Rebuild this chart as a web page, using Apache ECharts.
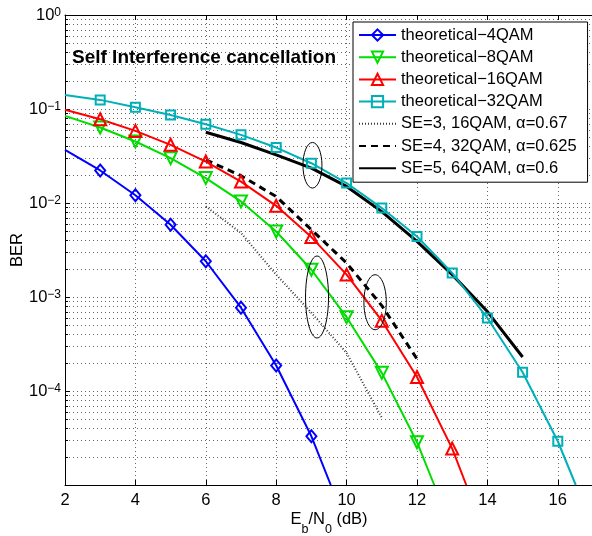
<!DOCTYPE html>
<html>
<head>
<meta charset="utf-8">
<script src="https://cdn.jsdelivr.net/npm/echarts@6/dist/echarts.min.js"></script>
<style>
  html, body { margin: 0; padding: 0; background: #fff; }
  #ber-chart { width: 592px; height: 536px; }
</style>
</head>
<body>
<div id="ber-chart"></div>
<script>
// Eb/N0 (dB) points; first / last point of each theoretical curve is where it enters / leaves the plot
const ebno4qam = [2, 3, 4, 5, 6, 7, 8, 9, 9.55];
const ber4qam = [0.0367, 0.0222, 0.0121, 0.00586, 0.0024, 7.7e-4, 1.87e-4, 3.3e-5, 1e-5];

const ebno8qam = [2, 3, 4, 5, 6, 7, 8, 9, 10, 11, 12, 12.49];
const ber8qam = [0.0845, 0.0635, 0.0451, 0.030, 0.0184, 0.0104, 0.00498, 0.00195, 6.1e-4, 1.56e-4, 2.85e-5, 1e-5];

const ebno16qam = [2, 3, 4, 5, 6, 7, 8, 9, 10, 11, 12, 13, 13.4];
const ber16qam = [0.098, 0.0779, 0.0585, 0.0416, 0.0276, 0.0169, 0.00933, 0.00434, 0.00173, 5.6e-4, 1.41e-4, 2.44e-5, 1e-5];

const ebno32qam = [2, 3, 4, 5, 6, 7, 8, 9, 10, 11, 12, 13, 14, 15, 16, 16.51];
const ber32qam = [0.141, 0.125, 0.1045, 0.0865, 0.0689, 0.0531, 0.0389, 0.0265, 0.0163, 0.00883, 0.0044, 0.0018, 5.98e-4, 1.58e-4, 2.92e-5, 1e-5];

// self interference cancellation results
const ebnoSE3 = [6, 7, 8, 9, 10, 11];
const berSE3 = [0.0092, 0.0048, 0.00173, 6.8e-4, 2.54e-4, 5.2e-5];
const ebnoSE4 = [6, 7, 8, 9, 10, 11, 12];
const berSE4 = [0.0288, 0.0195, 0.0117, 0.0052, 0.0023, 8.1e-4, 2.19e-4];
const ebnoSE5 = [6, 7, 8, 9, 10, 11, 12, 13, 14, 15];
const berSE5 = [0.0566, 0.044, 0.0325, 0.0235, 0.015, 0.0081, 0.0039, 0.00173, 7.0e-4, 2.3e-4];

// annotation ellipse centres [Eb/N0, BER]
const ellipseCenters = [[9.03, 0.0252], [9.16, 1.0e-3], [10.81, 8.8e-4]];

const FONT = 'Liberation Sans, Arial, Helvetica, sans-serif';

// minor log grid positions 2..9 x 10^k
const minorGrid = [];
for (let k = -5; k < 0; k++) {
  for (let m = 2; m <= 9; m++) minorGrid.push([2, m * Math.pow(10, k)]);
}

function supLabel(v) {
  const e = Math.round(Math.log10(v));
  return '{b|10}{s|' + (e < 0 ? '\u2212' + (-e) : e) + '}';
}

function theory(name, xs, ys, color, symbol, size, rotate) {
  return {
    name: name,
    type: 'line',
    data: xs.map((x, i) => (i === 0 || i === xs.length - 1)
      ? { value: [x, ys[i]], symbol: 'none' }
      : [x, ys[i]]),
    symbol: symbol,
    symbolSize: size,
    symbolRotate: rotate || 0,
    showAllSymbol: true,
    lineStyle: { color: color, width: 2 },
    itemStyle: { color: 'rgba(255,255,255,0)', borderColor: color, borderWidth: 2 },
    emphasis: { disabled: true },
    z: 4,
  };
}

function simLine(name, xs, ys, style) {
  return {
    name: name,
    type: 'line',
    data: xs.map((x, i) => [x, ys[i]]),
    symbol: 'none',
    lineStyle: style,
    itemStyle: { color: style.color },
    emphasis: { disabled: true },
    z: 3,
  };
}

const noMarker = { color: 'rgba(0,0,0,0)', borderWidth: 0, opacity: 0 };

const chart = echarts.init(document.getElementById('ber-chart'));

const option = {
  animation: false,
  textStyle: { fontFamily: FONT },
  grid: { left: 65, right: -1, top: 15, bottom: 51, show: false, outerBoundsMode: 'none', containLabel: false },
  title: {
    text: 'Self Interference cancellation',
    left: 72,
    top: 48,
    padding: 0,
    textStyle: { fontFamily: FONT, fontSize: 19, fontWeight: 'bold', color: '#000' },
  },
  legend: {
    orient: 'vertical',
    left: 353,
    top: 22,
    padding: [4, 11, 5, 5],
    itemGap: 4.2,
    itemWidth: 37,
    itemHeight: 14,
    backgroundColor: '#fff',
    borderColor: '#000',
    borderWidth: 1,
    borderRadius: 0,
    textStyle: { fontFamily: FONT, fontSize: 16.5, color: '#000', lineHeight: 18 },
    data: [
      'theoretical\u22124QAM', 'theoretical\u22128QAM', 'theoretical\u221216QAM', 'theoretical\u221232QAM',
      { name: 'SE=3, 16QAM, \u03b1=0.67', itemStyle: noMarker },
      { name: 'SE=4, 32QAM, \u03b1=0.625', itemStyle: noMarker },
      { name: 'SE=5, 64QAM, \u03b1=0.6', itemStyle: noMarker },
    ],
  },
  xAxis: [
    {
      type: 'value',
      min: 2,
      max: 17,
      interval: 2,
      name: '{n|E}{sub|b}{n|/N}{sub|0}{n| (dB)}',
      nameLocation: 'middle',
      nameGap: 26,
      nameMoveOverlap: false,
      nameTextStyle: {
        rich: {
          n: { fontFamily: FONT, fontSize: 16.5, color: '#000', padding: [0, 0, 8, 0], verticalAlign: 'bottom' },
          sub: { fontFamily: FONT, fontSize: 12.5, color: '#000', verticalAlign: 'bottom' },
        },
      },
      axisLine: { onZero: false, lineStyle: { color: '#000', width: 1 } },
      axisTick: { inside: true, length: 5, lineStyle: { color: '#000' } },
      axisLabel: { showMaxLabel: false, margin: 7, fontFamily: FONT, fontSize: 16.5, color: '#000' },
      splitLine: { show: true, lineStyle: { color: '#000', type: [1, 3], opacity: 0.6 } },
    },
    {
      type: 'value',
      position: 'top',
      min: 2,
      max: 17,
      interval: 2,
      axisLine: { onZero: false, lineStyle: { color: '#000', width: 1 } },
      axisTick: { inside: true, length: 5, lineStyle: { color: '#000' } },
      axisLabel: { show: false },
      splitLine: { show: false },
    },
  ],
  yAxis: {
    type: 'log',
    logBase: 10,
    min: 1e-5,
    max: 1,
    name: 'BER',
    nameLocation: 'middle',
    nameGap: 39,
    nameMoveOverlap: false,
    nameTextStyle: { fontFamily: FONT, fontSize: 16.5, color: '#000' },
    axisLine: { show: true, onZero: false, lineStyle: { color: '#000', width: 1 } },
    axisTick: { show: true, inside: true, length: 5, lineStyle: { color: '#000' } },
    axisLabel: {
      showMinLabel: false,
      margin: 4,
      formatter: supLabel,
      rich: {
        b: { fontFamily: FONT, fontSize: 16.5, color: '#000', verticalAlign: 'bottom' },
        s: { fontFamily: FONT, fontSize: 12, color: '#000', verticalAlign: 'bottom', padding: [0, 0, 5, 0] },
      },
    },
    splitLine: { show: true, lineStyle: { color: '#000', type: [1, 3], opacity: 0.6 } },
  },
  series: [
    {
      type: 'custom',
      silent: true,
      z: 1,
      data: minorGrid,
      encode: { x: 0, y: 1 },
      renderItem(params, api) {
        const a = api.coord([2, api.value(1)]);
        const b = api.coord([17, api.value(1)]);
        const y = Math.round(a[1]) + 0.5;
        return {
          type: 'group',
          children: [
            { type: 'line', shape: { x1: a[0], y1: y, x2: b[0], y2: y },
              style: { stroke: '#000', lineWidth: 1, lineDash: [1, 3], opacity: 0.6 } },
            { type: 'line', shape: { x1: a[0], y1: y, x2: a[0] + 3, y2: y },
              style: { stroke: '#000', lineWidth: 1 } },
          ],
        };
      },
    },
    theory('theoretical\u22124QAM', ebno4qam, ber4qam, '#0000ff', 'diamond', [10, 12]),
    theory('theoretical\u22128QAM', ebno8qam, ber8qam, '#00dd00', 'triangle', 12, 180),
    theory('theoretical\u221216QAM', ebno16qam, ber16qam, '#ff0000', 'triangle', 12),
    theory('theoretical\u221232QAM', ebno32qam, ber32qam, '#00b0b8', 'rect', 9),
    simLine('SE=3, 16QAM, \u03b1=0.67', ebnoSE3, berSE3, { color: '#3a3a3a', width: 2, type: [1, 2] }),
    simLine('SE=4, 32QAM, \u03b1=0.625', ebnoSE4, berSE4, { color: '#000', width: 3, type: [7, 5] }),
    simLine('SE=5, 64QAM, \u03b1=0.6', ebnoSE5, berSE5, { color: '#000', width: 3 }),
  ],
};

chart.setOption(option);

// annotation ellipses placed through the axes
const radii = [[9.5, 22.8], [11.5, 41], [11.2, 27.5]];
chart.setOption({
  graphic: ellipseCenters.map((c, i) => {
    const p = chart.convertToPixel({ gridIndex: 0 }, c);
    return {
      type: 'ellipse',
      z: 10,
      silent: true,
      shape: { cx: p[0], cy: p[1], rx: radii[i][0], ry: radii[i][1] },
      style: { fill: 'none', stroke: '#000', lineWidth: 1 },
    };
  }),
});
</script>
</body>
</html>
